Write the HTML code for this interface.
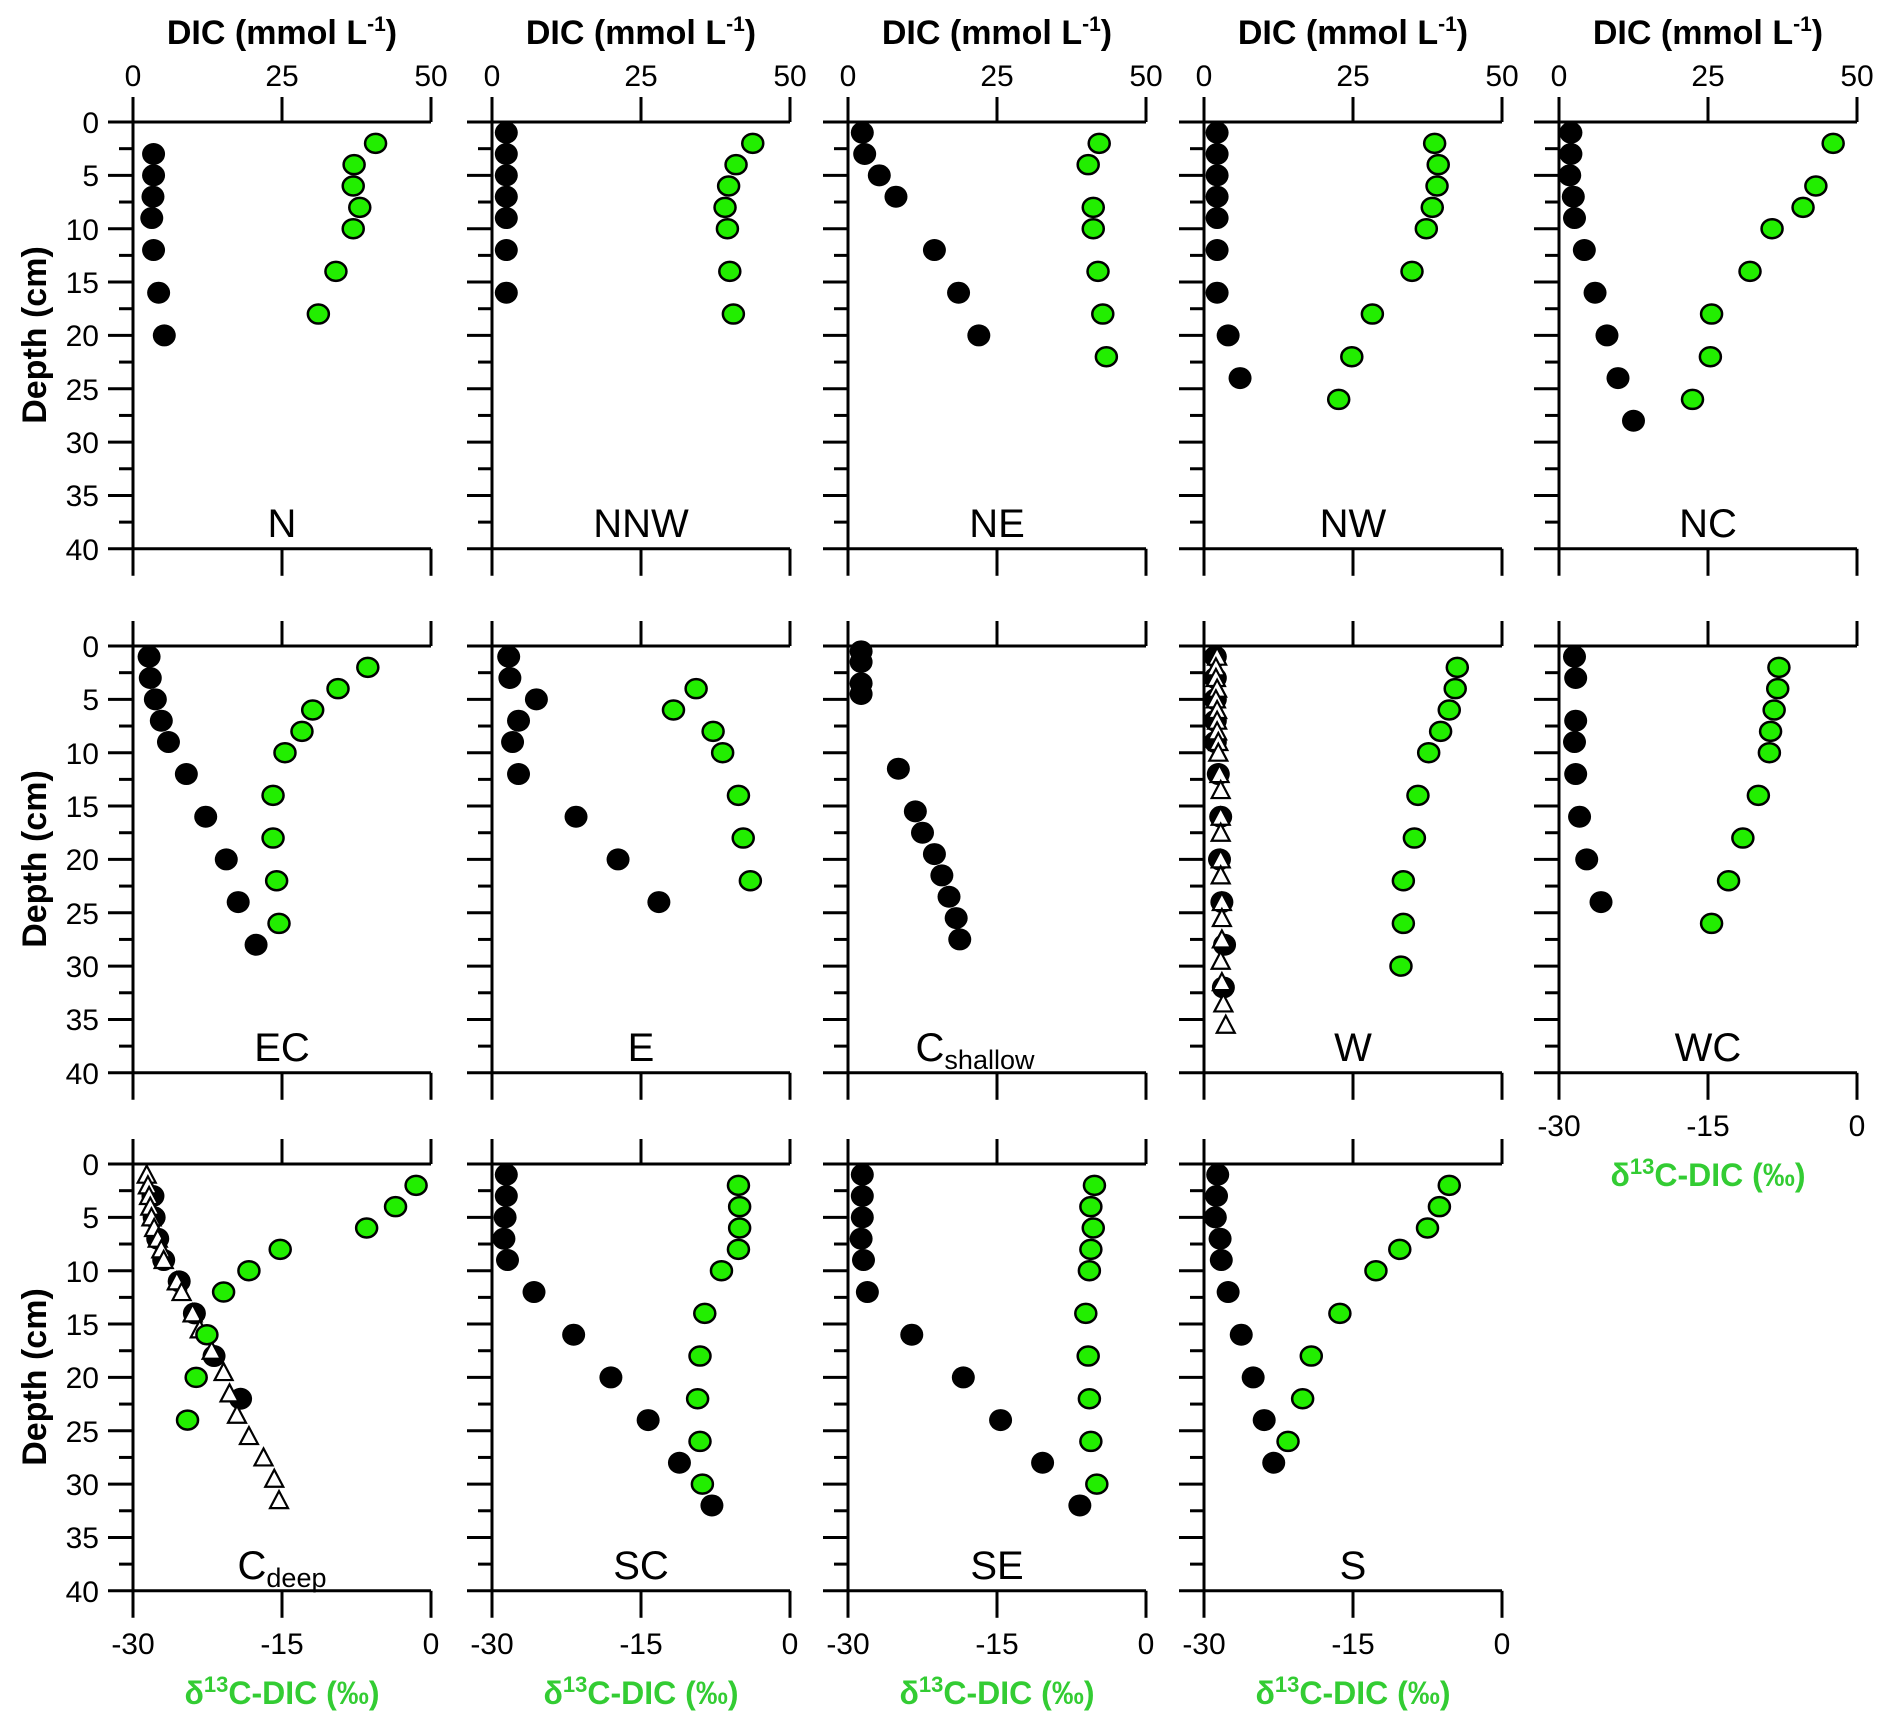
<!DOCTYPE html>
<html><head><meta charset="utf-8"><style>
html,body{margin:0;padding:0;background:#fff}
svg{display:block}
text{font-family:"Liberation Sans",sans-serif;fill:#000}
.t text{font-size:30px}
.b text{font-size:34px;font-weight:bold}
.g text{font-size:32px;font-weight:bold;fill:#33cc33}
.g tspan{fill:#33cc33}
.p text{font-size:40px}
.s{font-size:27px}
</style></head><body>
<svg id="s" width="1892" height="1730" viewBox="0 0 1892 1730" xmlns="http://www.w3.org/2000/svg">
<g id="shapes"></g>
<!-- top titles -->
<g class="b" text-anchor="middle">
<text x="282" y="44">DIC (mmol L<tspan font-size="21" dy="-13">-1</tspan><tspan dy="13">)</tspan></text>
<text x="641" y="44">DIC (mmol L<tspan font-size="21" dy="-13">-1</tspan><tspan dy="13">)</tspan></text>
<text x="997" y="44">DIC (mmol L<tspan font-size="21" dy="-13">-1</tspan><tspan dy="13">)</tspan></text>
<text x="1353" y="44">DIC (mmol L<tspan font-size="21" dy="-13">-1</tspan><tspan dy="13">)</tspan></text>
<text x="1708" y="44">DIC (mmol L<tspan font-size="21" dy="-13">-1</tspan><tspan dy="13">)</tspan></text>
</g>
<g class="t" text-anchor="middle">
<text x="133" y="86">0</text><text x="282" y="86">25</text><text x="431" y="86">50</text>
<text x="492" y="86">0</text><text x="641" y="86">25</text><text x="790" y="86">50</text>
<text x="848" y="86">0</text><text x="997" y="86">25</text><text x="1146" y="86">50</text>
<text x="1204" y="86">0</text><text x="1353" y="86">25</text><text x="1502" y="86">50</text>
<text x="1559" y="86">0</text><text x="1708" y="86">25</text><text x="1857" y="86">50</text>
<text x="133" y="1654">-30</text><text x="282" y="1654">-15</text><text x="431" y="1654">0</text>
<text x="492" y="1654">-30</text><text x="641" y="1654">-15</text><text x="790" y="1654">0</text>
<text x="848" y="1654">-30</text><text x="997" y="1654">-15</text><text x="1146" y="1654">0</text>
<text x="1204" y="1654">-30</text><text x="1353" y="1654">-15</text><text x="1502" y="1654">0</text>
<text x="1559" y="1136">-30</text><text x="1708" y="1136">-15</text><text x="1857" y="1136">0</text>
</g>
<g class="g" text-anchor="middle">
<text x="282" y="1704">δ<tspan font-size="22" dy="-12">13</tspan><tspan dy="12">C-DIC (‰)</tspan></text>
<text x="641" y="1704">δ<tspan font-size="22" dy="-12">13</tspan><tspan dy="12">C-DIC (‰)</tspan></text>
<text x="997" y="1704">δ<tspan font-size="22" dy="-12">13</tspan><tspan dy="12">C-DIC (‰)</tspan></text>
<text x="1353" y="1704">δ<tspan font-size="22" dy="-12">13</tspan><tspan dy="12">C-DIC (‰)</tspan></text>
<text x="1708" y="1186">δ<tspan font-size="22" dy="-12">13</tspan><tspan dy="12">C-DIC (‰)</tspan></text>
</g>
<!-- depth labels -->
<g class="t" text-anchor="end">
<text x="99" y="133">0</text><text x="99" y="186">5</text><text x="99" y="240">10</text><text x="99" y="293">15</text><text x="99" y="346">20</text><text x="99" y="400">25</text><text x="99" y="453">30</text><text x="99" y="506">35</text><text x="99" y="560">40</text>
<text x="99" y="657">0</text><text x="99" y="710">5</text><text x="99" y="764">10</text><text x="99" y="817">15</text><text x="99" y="870">20</text><text x="99" y="924">25</text><text x="99" y="977">30</text><text x="99" y="1030">35</text><text x="99" y="1084">40</text>
<text x="99" y="1175">0</text><text x="99" y="1228">5</text><text x="99" y="1282">10</text><text x="99" y="1335">15</text><text x="99" y="1388">20</text><text x="99" y="1442">25</text><text x="99" y="1495">30</text><text x="99" y="1548">35</text><text x="99" y="1602">40</text>
</g>
<g class="b" text-anchor="middle">
<text transform="translate(46,335) rotate(-90)">Depth (cm)</text>
<text transform="translate(46,859) rotate(-90)">Depth (cm)</text>
<text transform="translate(46,1377) rotate(-90)">Depth (cm)</text>
</g>
<!-- panel labels -->
<g class="p" text-anchor="middle">
<text x="282" y="537">N</text><text x="641" y="537">NNW</text><text x="997" y="537">NE</text><text x="1353" y="537">NW</text><text x="1708" y="537">NC</text>
<text x="282" y="1061">EC</text><text x="641" y="1061">E</text><text x="975" y="1061">C<tspan class="s" dy="8">shallow</tspan></text><text x="1353" y="1061">W</text><text x="1708" y="1061">WC</text>
<text x="282" y="1579">C<tspan class="s" dy="8">deep</tspan></text><text x="641" y="1579">SC</text><text x="997" y="1579">SE</text><text x="1353" y="1579">S</text>
</g>
</svg>
<script>
var cols=[133,492,848,1204,1559],rows=[122,646,1164],W=298,PC=10.67;
var NS="http://www.w3.org/2000/svg",G=document.getElementById("shapes");
function el(n,a){var e=document.createElementNS(NS,n);for(var k in a)e.setAttribute(k,a[k]);G.appendChild(e);return e;}
function ln(x1,y1,x2,y2){el("line",{x1:x1,y1:y1,x2:x2,y2:y2,stroke:"#000","stroke-width":3});}
var D={
"0,0":{b:[[3,6.9],[5,6.9],[7,6.7],[9,6.3],[12,6.9],[16,8.6],[20,10.5]],g:[[2,81.4],[4,74.2],[6,73.9],[8,76.1],[10,73.9],[14,68.1],[18,62.2]]},
"0,1":{b:[[1,4.8],[3,4.8],[5,4.8],[7,4.8],[9,4.8],[12,4.8],[16,4.8]],g:[[2,87.5],[4,81.9],[6,79.4],[8,78.2],[10,79],[14,79.8],[18,81]]},
"0,2":{b:[[1,4.8],[3,5.6],[5,10.5],[7,16.1],[12,29],[16,37.1],[20,43.9]],g:[[2,84.3],[4,80.6],[8,82.3],[10,82.3],[14,83.9],[18,85.5],[22,86.7]]},
"0,3":{b:[[1,4.4],[3,4.4],[5,4.4],[7,4.4],[9,4.4],[12,4.4],[16,4.4],[20,8.1],[24,12.1]],g:[[2,77.4],[4,78.6],[6,78.2],[8,76.6],[10,74.6],[14,69.8],[18,56.5],[22,49.6],[26,45.2]]},
"0,4":{b:[[1,4],[3,4],[5,3.6],[7,4.8],[9,5.2],[12,8.5],[16,12.1],[20,16.1],[24,19.8],[28,25]],g:[[2,92],[6,86.2],[8,81.9],[10,71.5],[14,64.1],[18,51.2],[22,50.8],[26,44.8]]},
"1,0":{b:[[1,5.4],[3,5.8],[5,7.5],[7,9.5],[9,11.9],[12,17.9],[16,24.4],[20,31.3],[24,35.3],[28,41.3]],g:[[2,78.8],[4,68.8],[6,60.3],[8,56.7],[10,51],[14,47],[18,47],[22,48.2],[26,49]]},
"1,1":{b:[[1,5.6],[3,6],[5,14.9],[7,8.9],[9,6.9],[12,8.9],[16,28.2],[20,42.3],[24,56]],g:[[4,68.5],[6,60.9],[8,74.2],[10,77.4],[14,82.7],[18,84.3],[22,86.7]]},
"1,2":{b:[[0.5,4.4],[1.5,4.4],[3.5,4.4],[4.5,4.4],[11.5,16.9],[15.5,22.6],[17.5,25],[19.5,29],[21.5,31.5],[23.5,33.9],[25.5,36.3],[27.5,37.5]],g:[]},
"1,3":{b:[[1,3.8],[3,3.8],[5,3.8],[7,3.8],[9,3.8],[12,4.8],[16,5.6],[20,5.2],[24,6],[28,6.9],[32,6.5]],g:[[2,85],[4,84.3],[6,82.3],[8,79.4],[10,75.4],[14,71.8],[18,70.6],[22,66.9],[26,66.9],[30,66.1]],
 t:[[1,4.4],[2,4],[3,4],[4,4.4],[5,4],[6,4.4],[7,4.4],[8,4.4],[9,4.8],[10,4.8],[12,5.2],[13.5,5.6],[16,5.6],[17.5,5.6],[20,5.6],[21.5,5.6],[24,6],[25.5,6],[27.5,6],[29.5,5.6],[31.5,6],[33.5,6.5],[35.5,7.3]]},
"1,4":{b:[[1,5.2],[3,5.6],[7,5.6],[9,5.2],[12,5.6],[16,6.9],[20,9.3],[24,14.1]],g:[[2,73.8],[4,73.4],[6,72.2],[8,71],[10,70.6],[14,66.9],[18,61.7],[22,56.9],[26,51.2]]},
"2,0":{b:[[3,6.7],[5,7.1],[7,8.3],[9,10.3],[11,15.5],[14,20.6],[18,27.2],[22,36.1]],g:[[2,95],[4,88.1],[6,78.4],[8,49.4],[10,38.9],[12,30.4],[16,24.8],[20,21.2],[24,18.3]],
 t:[[1,4.6],[2,5],[3,5.4],[4,5.8],[5,6.2],[6,7.1],[7,8.3],[8,9.5],[9,10.3],[11,14.7],[12,16.3],[14,20],[15.5,22.4],[17.5,26.4],[19.5,30.4],[21.5,32.4],[23.5,34.9],[25.5,38.9],[27.5,43.8],[29.5,47.4],[31.5,49]]},
"2,1":{b:[[1,4.8],[3,4.8],[5,4.4],[7,4],[9,5.2],[12,14.1],[16,27.4],[20,39.9],[24,52.4],[28,62.9],[32,73.8]],g:[[2,82.7],[4,83.1],[6,83.1],[8,82.7],[10,77],[14,71.4],[18,69.8],[22,69],[26,69.8],[30,70.6]]},
"2,2":{b:[[1,4.8],[3,4.8],[5,4.8],[7,4.4],[9,5.2],[12,6.5],[16,21.4],[20,38.7],[24,51.2],[28,65.3],[32,77.8]],g:[[2,82.7],[4,81.5],[6,82.3],[8,81.5],[10,81],[14,79.8],[18,80.6],[22,81],[26,81.5],[30,83.5]]},
"2,3":{b:[[1,4.6],[3,4.2],[5,3.8],[7,5.4],[9,5.8],[12,8.1],[16,12.5],[20,16.5],[24,20.2],[28,23.4]],g:[[2,82.3],[4,79],[6,75],[8,65.7],[10,57.7],[14,45.6],[18,36],[22,33.1],[26,28.2]]}
};
for(var r=0;r<3;r++)for(var c=0;c<5;c++){
 if(r==2&&c==4)continue;
 var x0=cols[c],y0=rows[r],y1=y0+40*PC,x1=x0+W;
 ln(x0-25,y0,x1,y0);ln(x0-25,y1,x1,y1);
 ln(x0,y0-25,x0,y1+27);
 [x0+W/2,x1].forEach(function(x){ln(x,y0-25,x,y0);ln(x,y1,x,y1+27);});
 for(var d=2.5;d<40;d+=2.5){var y=y0+d*PC;var maj=(d%5==0);ln(maj?x0-25:x0-14,y,x0,y);}
 var dd=D[r+","+c];if(!dd)continue;
 (dd.b||[]).forEach(function(p){el("ellipse",{cx:x0+p[1]/100*W,cy:y0+p[0]*PC,rx:11.5,ry:11,fill:"#000"});});
 (dd.t||[]).forEach(function(p){var cx=x0+p[1]/100*W,cy=y0+p[0]*PC;el("polygon",{points:(cx-9)+","+(cy+8)+" "+(cx+9)+","+(cy+8)+" "+cx+","+(cy-9),fill:"#fff",stroke:"#000","stroke-width":2.2});});
 (dd.g||[]).forEach(function(p){el("ellipse",{cx:x0+p[1]/100*W,cy:y0+p[0]*PC,rx:10.5,ry:9.5,fill:"#22ee00",stroke:"#000","stroke-width":2.5});});
}
</script>
</body></html>
